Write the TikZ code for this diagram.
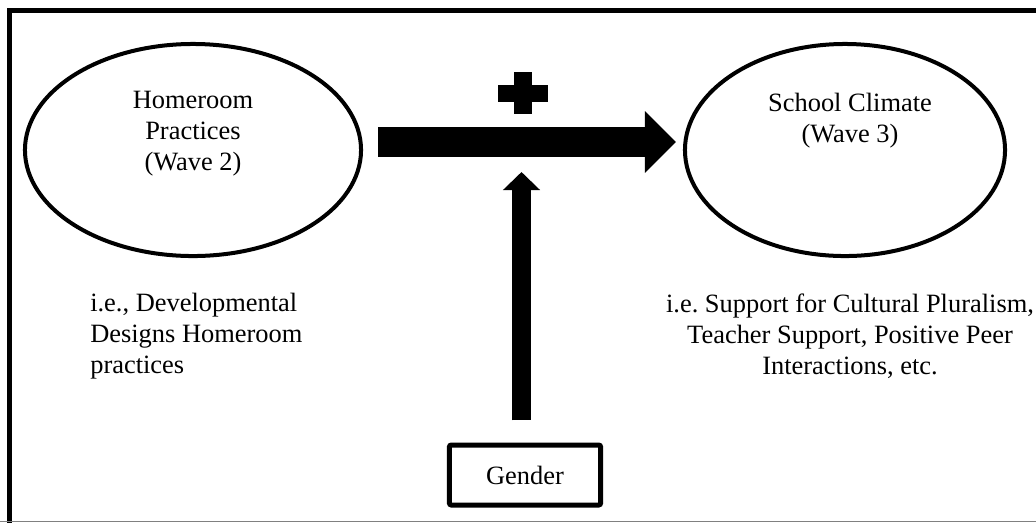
\documentclass[tikz,border=0pt]{standalone}
\usepackage{fontspec}
\setmainfont{Liberation Serif}
\usetikzlibrary{arrows.meta,positioning,shapes.geometric}
\tikzset{
  construct/.style={draw, ellipse, line width=1mm, minimum height=5.3cm},
  lbl/.style={align=center, inner sep=0pt, font=\fontsize{18.8}{22}\selectfont},
  box/.style={draw, line width=1.25mm, rounded corners=0.5mm, minimum width=3.78cm, minimum height=1.5cm, font=\fontsize{18.8}{22}\selectfont},
  bigarrow/.style={line width=0.75cm, -{Triangle[length=0.775cm, width=1.5cm]}},
  modarrow/.style={line width=0.48cm, -{Triangle[length=0.45cm, width=0.9cm]}}
}

\begin{document}
\begin{tikzpicture}[x=0.025cm, y=-0.025cm]
    \useasboundingbox (0,0) rectangle (1036,522);
    \clip (0,0) rectangle (1036,522);

    % frame
    \draw[line width=1.25mm] (9.5,540) -- (9.5,10.5) -- (1050,10.5);
    \draw[gray, line width=0.4pt] (0,521.5) -- (1036,521.5);

    \node[construct, minimum width=8.4cm] (hrp) at (193,150) {};
    \node[construct, minimum width=8cm] (clim) at (845,150) {};
    \node[lbl] (hrptext) at (193,134) {Homeroom\\ Practices\\ (Wave 2)};
    \node[lbl] (climtext) at (850,121) {School Climate\\ (Wave 3)};
    \node[lbl, align=left, anchor=west] (hrpex) at (90,336) {i.e., Developmental\\ Designs Homeroom\\ practices};
    \node[lbl] (climex) at (850,336) {i.e.\ Support for Cultural Pluralism,\\ Teacher Support, Positive Peer\\ Interactions, etc.};
    \node[box] (gen) at (525,475) {Gender};

    \draw[bigarrow, shorten <=0.375cm, shorten >=0.175cm] ([yshift=0.2cm]hrp.east) -- ([yshift=0.2cm]clim.west);

    % moderation by gender
    \coordinate (modtip) at (521.5,172);
    \draw[modarrow, shorten <=0.55cm] (gen.north -| modtip) -- (modtip);
    \fill (514,72) rectangle (532,114);
    \fill (498,85) rectangle (548,102);
  \end{tikzpicture}
\end{document}
